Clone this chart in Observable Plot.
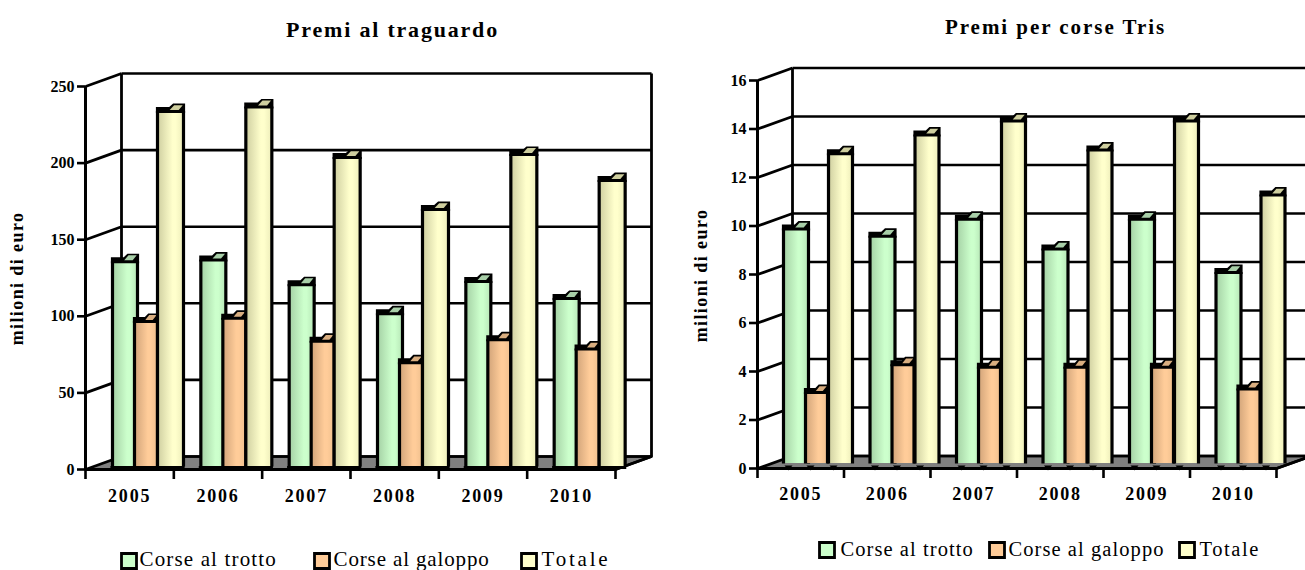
<!DOCTYPE html>
<html>
<head>
<meta charset="utf-8">
<script src="https://cdn.jsdelivr.net/npm/d3@7"></script>
<script src="https://cdn.jsdelivr.net/npm/@observablehq/plot@0.6"></script>
<style>
html,body{margin:0;padding:0;background:#fff;width:1305px;height:570px;overflow:hidden}
#wrap{position:relative;width:1305px;height:570px}
#wrap>svg{position:absolute;top:0}
</style>
</head>
<body>
<div id="wrap"></div>
<script>
const years = ["2005","2006","2007","2008","2009","2010"];
const seriesNames = ["Corse al trotto","Corse al galoppo","Totale"];
const seriesColors = ["#ccffcc","#ffcc99","#ffffcc"];

const traguardoTrotto  = [136,137,121,102,123,112];
const traguardoGaloppo = [97,99,84,70,85,79];
const traguardoTotale  = [234,237,204,170,206,189];
const traguardoTicks   = [0,50,100,150,200,250];

const trisTrotto  = [9.9,9.6,10.3,9.07,10.3,8.1];
const trisGaloppo = [3.15,4.3,4.2,4.2,4.2,3.3];
const trisTotale  = [13.0,13.77,14.35,13.15,14.35,11.3];
const trisTicks   = [0,2,4,6,8,10,12,14,16];

const FONT = "'Liberation Serif','Times New Roman',serif";

function gradientDefs() {
  const mk = (id, a, b, c) => `<linearGradient id="${id}" x1="0" x2="1" y1="0" y2="0">
    <stop offset="0" stop-color="${a}"/><stop offset="0.6" stop-color="${b}"/><stop offset="0.72" stop-color="${b}"/><stop offset="1" stop-color="${c}"/></linearGradient>`;
  return d3.create("svg:defs").html(
    mk("g0","#a3cfa3","#ccffcc","#b8e8b8") + mk("g1","#cfa278","#ffcc99","#f0c08e") + mk("g2","#cdcd9f","#ffffcc","#eeeebb")
  ).node();
}

function spaced(ls) {
  return function(index, scales, values, dimensions, context, next) {
    const g = next(index, scales, values, dimensions, context);
    g.style.letterSpacing = ls + "px";
    return g;
  };
}

function capSymbol(w) {
  return {draw(c) {
    c.moveTo(-1.6,-4); c.lineTo(w*0.45,-4); c.lineTo(w*0.6,-7.5); c.lineTo(w+1.6,-7.5); c.lineTo(w+1.6,2); c.lineTo(-1.6,2); c.closePath();
  }};
}
function capLight(w) {
  return {draw(c) {
    c.moveTo(w*0.47,-1); c.lineTo(w*0.64,-5.8); c.lineTo(w-0.8,-5.8); c.lineTo(w-4.8,-1); c.closePath();
  }};
}
const swatch = {draw(c){ c.rect(0,0,15,15); }};
const wedge = {draw(c){ c.moveTo(-4,-3); c.lineTo(4,-3); c.lineTo(0,2); c.closePath(); }};

function drawChart(cfg) {
  const {left,width,x0,x1,y0,yTop,domainMax,ticks,series,depth,bars} = cfg;
  const stepPx = (x1-x0)/6;
  const pxPerUnit = (y0-yTop)/domainMax;
  const dX = depth[0]/stepPx, dY = depth[1]/pxPerUnit;
  const marginLeft = x0-left, marginRight = left+width-x1, marginTop = yTop, marginBottom = 570-y0;
  const px = (xp, yp) => ({frameAnchor:"top-left", dx:xp-x0, dy:yp-yTop});
  const baseY = cfg.baseInset/pxPerUnit;

  const marks = [];
  marks.push(gradientDefs);
  // walls
  marks.push(Plot.line([[0,0],[6,0],[6+dX,dY],[dX,dY]], {x:d=>d[0],y:d=>d[1],fill:"#808080",stroke:"#000",strokeWidth:2.6}));
  marks.push(Plot.link(ticks, {x1:dX,x2:6+dX,y1:t=>t+dY,y2:t=>t+dY,stroke:"#000",strokeWidth:2.6}));
  marks.push(Plot.link(ticks, {x1:0,x2:dX,y1:t=>t,y2:t=>t+dY,stroke:"#000",strokeWidth:2.8}));
  marks.push(Plot.link([dX,6+dX], {x1:d=>d,x2:d=>d,y1:dY,y2:domainMax+dY,stroke:"#000",strokeWidth:2.8}));
  marks.push(Plot.link([0], {x1:6,x2:6+dX,y1:0,y2:dY,stroke:"#000",strokeWidth:2.8}));
  // bars
  series.forEach((vals,s) => {
    const [off,w] = bars[s];
    const rows = vals.map((v,i)=>({i,v}));
    marks.push(Plot.rect(rows,{x1:"i",x2:d=>d.i+1,y1:()=>baseY,y2:"v",insetLeft:off,insetRight:stepPx-off-w,
      fill:`url(#g${s})`,stroke:"none"}));
    for (const side of [off,off+w]) {
      marks.push(Plot.link(rows,{x1:"i",x2:"i",y1:()=>baseY,y2:"v",dx:side,stroke:"#000",strokeWidth:3.2}));
    }
    if (cfg.baseLine) {
      marks.push(Plot.rect(rows,{x1:"i",x2:d=>d.i+1,y1:()=>0,y2:()=>baseY,insetLeft:off-1.6,insetRight:stepPx-off-w-1.6,fill:"#000"}));
    } else {
      marks.push(Plot.dot(rows,{x:"i",y:()=>0,dx:off+5,symbol:wedge,fill:"#000",stroke:"none"}));
    }
    marks.push(Plot.dot(rows,{x:"i",y:"v",dx:off,symbol:capSymbol(w),fill:"#000",stroke:"none"}));
    marks.push(Plot.dot(rows,{x:"i",y:"v",dx:off,symbol:capLight(w),fill:cfg.capColors[s],stroke:"none"}));
  });
  // front axes
  marks.push(Plot.ruleX([0],{y1:0,y2:domainMax,stroke:"#000",strokeWidth:3}));
  marks.push(Plot.ruleY([0],{x1:0,x2:6,stroke:"#000",strokeWidth:3.2}));
  marks.push(Plot.axisY({ticks,tickSize:8,tickPadding:3,strokeWidth:2.6,label:null,fontSize:16,fontWeight:"bold",tickFormat:d=>String(d)}));
  marks.push(Plot.axisX({ticks:d3.range(7),tickSize:10,strokeWidth:2.6,label:null,tickFormat:()=>""}));
  marks.push(Plot.text(years,{x:(d,i)=>i+0.5,y:()=>0,dy:cfg.yearDy,fontSize:18,fontWeight:"bold",render:spaced(1.8)}));
  // title and y label
  marks.push(Plot.text([cfg.title],{...px(cfg.titlePos[0],cfg.titlePos[1]),fontSize:cfg.titleSize,fontWeight:"bold",textAnchor:"middle",render:spaced(cfg.titleSpacing)}));
  marks.push(Plot.text(["milioni di euro"],{...px(cfg.yLabelPos[0],cfg.yLabelPos[1]),rotate:-90,fontSize:18,fontWeight:"bold",textAnchor:"middle",render:spaced(1.4)}));
  // legend
  seriesNames.forEach((n,s)=>{
    const [sx,tx] = cfg.legendX[s];
    marks.push(Plot.dot([n],{...px(sx,cfg.legendY),symbol:swatch,fill:seriesColors[s],stroke:"#000",strokeWidth:2.8}));
    marks.push(Plot.text([n],{...px(tx,cfg.legendTextY),fontSize:cfg.legendSize,textAnchor:"start",render:spaced(cfg.legendSpacing[s])}));
  });

  const svg = Plot.plot({
    width,height:570,marginLeft,marginRight,marginTop,marginBottom,
    style:{fontFamily:FONT,background:"transparent",color:"#000",fontSize:"16px"},
    x:{domain:[0,6],axis:null},
    y:{domain:[0,domainMax],axis:null},
    marks
  });
  svg.style.left = left+"px";
  document.getElementById("wrap").appendChild(svg);
}

drawChart({
  left:0,width:660,x0:85,x1:615,y0:469,yTop:86,domainMax:250,ticks:traguardoTicks,
  series:[traguardoTrotto,traguardoGaloppo,traguardoTotale],depth:[36,13],
  bars:[[27,25],[49,23],[72,26]],capColors:["#a8cfa8","#d9ae80","#cfcf9f"],
  baseInset:3,baseLine:true,
  yearDy:27,
  title:"Premi al traguardo",titlePos:[392,21],titleSize:22,titleSpacing:1.8,
  yLabelPos:[10,278],
  legendX:[[121,139],[314,333],[521,541]],legendY:553,legendTextY:551,legendSize:21,legendSpacing:[1.15,0.87,2.8]
});
drawChart({
  left:652,width:653,x0:757,x1:1276,y0:468,yTop:80,domainMax:16,ticks:trisTicks,
  series:[trisTrotto,trisGaloppo,trisTotale],depth:[35,12.5],
  bars:[[26,25],[48,22],[71,24]],capColors:["#a8cfa8","#d9ae80","#cfcf9f"],
  baseInset:5,baseLine:false,
  yearDy:26,
  title:"Premi per corse Tris",titlePos:[1055,19],titleSize:21,titleSpacing:1.95,
  yLabelPos:[694,275],
  legendX:[[819,840],[989,1008],[1179,1199]],legendY:542,legendTextY:541,legendSize:20.5,legendSpacing:[1.07,1.07,1.6]
});
</script>
</body>
</html>
